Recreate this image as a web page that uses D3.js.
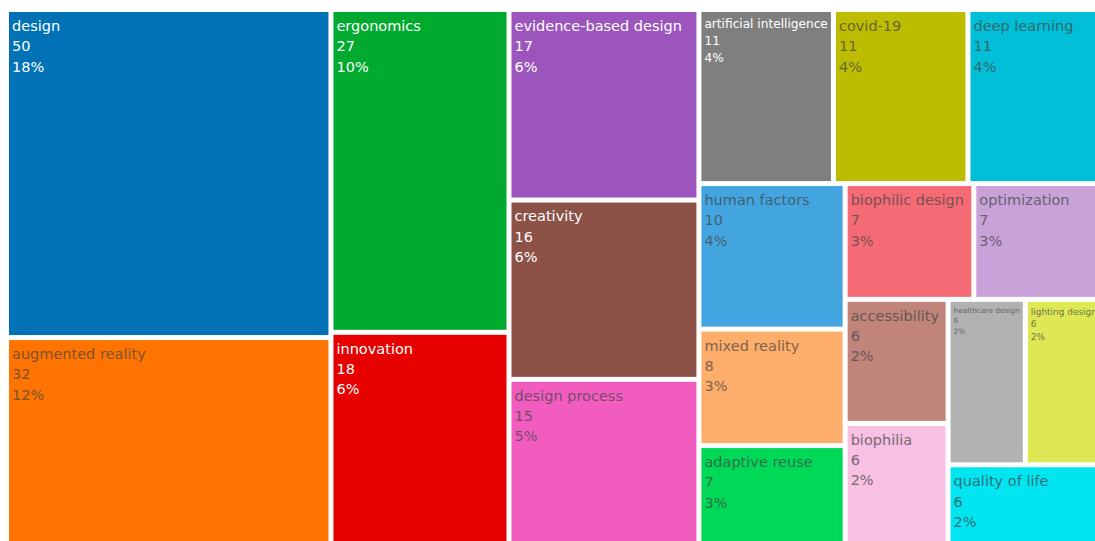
<!DOCTYPE html>
<html>
<head>
<meta charset="utf-8">
<script src="https://cdn.jsdelivr.net/npm/d3@7"></script>
<style>
  body { margin: 0; background: #fff; overflow: hidden; }
  .chart text { font-family: Verdana, "DejaVu Sans", sans-serif; }
</style>
</head>
<body>
<div class="chart"></div>
<script>
const keywords = ["design", "augmented reality", "ergonomics", "innovation", "evidence-based design",
  "creativity", "design process", "artificial intelligence", "covid-19", "deep learning",
  "human factors", "mixed reality", "adaptive reuse", "biophilic design", "optimization",
  "accessibility", "biophilia", "healthcare design", "lighting design", "quality of life"];
const counts = [50, 32, 27, 18, 17, 16, 15, 11, 11, 11, 10, 8, 7, 7, 7, 6, 6, 6, 6, 6];
const shares = ["18%", "12%", "10%", "6%", "6%", "6%", "5%", "4%", "4%", "4%",
  "4%", "3%", "3%", "3%", "3%", "2%", "2%", "2%", "2%", "2%"];
const colors = ["#0072b5", "#ff7400", "#00aa2e", "#e60000", "#9b55bd",
  "#8c5147", "#f25cbf", "#7f7f7f", "#bcbd00", "#00bfd6",
  "#42a5e0", "#ffad6b", "#00d957", "#f46b75", "#c8a2d8",
  "#c0847a", "#f8c0e3", "#b2b2b2", "#dde854", "#00e5f0"];

const margin = ({top: 12, left: 9});
const width = 1091, height = 533;

const svg = d3.select(".chart").append("svg")
  .attr("width", 1095)
  .attr("height", 541)
  .append("g")
  .attr("transform", `translate(${margin.left},${margin.top})`);

const data = keywords.map((k, i) => ({name: k, value: counts[i], share: shares[i], color: colors[i]}));

const root = d3.hierarchy({children: data})
  .sum(d => d.value || 0)
  .sort((a, b) => b.value - a.value);

// the source tool picked its rows on a slightly wider canvas
const stretch = 1.15;
const squarify = d3.treemapSquarify.ratio(1);
const tile = (node, x0, y0, x1, y1) => {
  squarify(node, x0 * stretch, y0, x1 * stretch, y1);
  node.children.forEach(c => { c.x0 /= stretch; c.x1 /= stretch; });
};

d3.treemap()
  .size([width, height])
  .paddingInner(5)
  .tile(tile)(root);

// white on dark tiles, dark grey (tinted by the tile) on light ones
function textColor(bg) {
  const c = d3.rgb(bg);
  const bright = (c.r * 299 + c.g * 587 + c.b * 114) / 1000;
  if (bright < 128) return "#fff";
  return d3.interpolateRgb("#444", bg)(0.3);
}

const cell = svg.selectAll("g.cell")
  .data(root.leaves())
  .enter().append("g")
  .attr("class", "cell")
  .attr("transform", d => `translate(${d.x0},${d.y0})`);

cell.append("rect")
  .attr("width", d => d.x1 - d.x0)
  .attr("height", d => d.y1 - d.y0)
  .attr("fill", d => d.data.color);

const baseSize = 14.5;
cell.each(function(d) {
  const w = d.x1 - d.x0, h = d.y1 - d.y0;
  const t = d3.select(this).append("text")
    .attr("y", 3)
    .attr("font-size", baseSize)
    .attr("fill", textColor(d.data.color));
  t.selectAll("tspan")
    .data([d.data.name, d.data.value, d.data.share])
    .enter().append("tspan")
    .attr("x", 3)
    .attr("dy", (l, i) => i ? "1.4em" : "1.1em")
    .text(l => l);
  const tw = t.node().getBBox().width;
  const fs = Math.min(baseSize, baseSize * (w - 6) / tw, (h - 3) / 4.2);
  t.attr("font-size", fs);
});
</script>
</body>
</html>
